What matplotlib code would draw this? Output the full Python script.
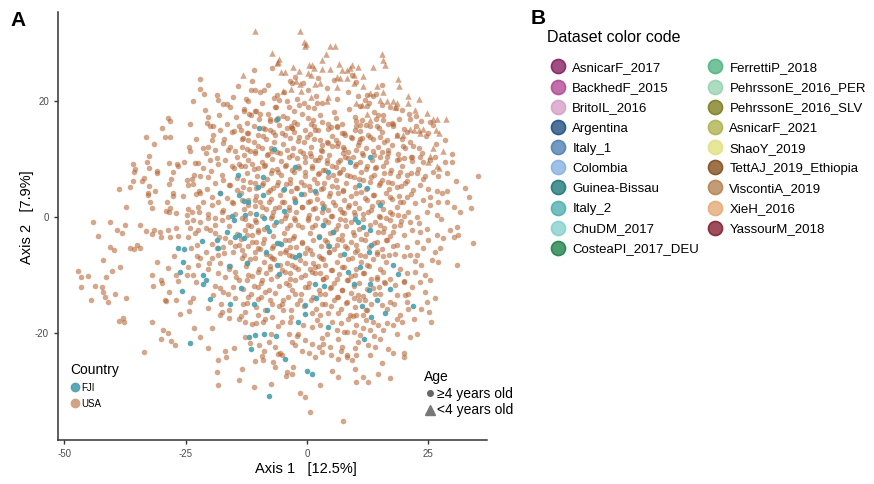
import matplotlib
matplotlib.use("Agg")
import matplotlib.pyplot as plt
from matplotlib.lines import Line2D
from matplotlib.colors import to_rgba

plt.rcParams['font.family'] = ['Liberation Sans', 'DejaVu Sans']
plt.rcParams['axes.unicode_minus'] = False

# ---------------- data ----------------
usa_x = [
 -22.1,-22.1,-21.2,-23.4,-28.7,-28.2,-24.0,-29.8,-33.2,-29.3,-28.2,-22.9,-31.5,-24.4,-24.0,-21.4,-32.6,-35.8,-33.0,-28.5,
 -26.7,-26.5,-25.3,-23.1,-22.5,-21.5,-35.4,-35.7,-32.6,-31.0,-30.9,-27.6,-33.5,-33.9,-28.0,-23.3,-23.6,-22.0,-35.9,-32.5,
 -28.5,-24.8,-24.5,-23.4,-38.7,-36.4,-32.8,-32.7,-31.3,-27.7,-27.5,-25.6,-22.9,-22.3,-22.0,-32.4,-28.9,-37.3,-31.9,-28.3,
 -29.1,-28.5,-26.9,-24.8,-24.5,-23.6,-22.5,-22.2,-21.5,
 -44.1,-40.6,-43.0,-39.2,-38.2,-37.4,-40.6,-39.7,-36.5,-35.7,-35.1,-34.4,-34.4,-33.2,-31.5,-30.3,-30.0,-32.0,-28.6,-28.2,
 -26.9,-26.5,-42.0,-47.2,-46.5,-45.1,-46.5,-43.6,-42.2,-44.5,-41.5,-40.1,-38.6,-42.0,-41.6,-41.0,-39.6,-37.3,-30.8,-28.7,
 -32.0,-31.7,-30.0,-29.8,-28.4,-29.3,-29.1,-27.0,-26.5,-26.9,-27.4,-24.5,-24.8,-24.1,-24.3,-23.4,-26.1,-31.9,-38.8,-37.9,
 -37.7,-29.6,-28.6,-30.0,-28.1,-27.1,-33.6,-23.2,-22.1,-22.4,-22.7,-22.1,-23.4,-22.9,-24.5,-24.0,-23.1,-22.4,-24.8,-23.4,
 -22.1,-23.8,-22.7,
 -11.0,-7.3,-3.0,-2.5,-11.6,-10.7,-9.7,-8.8,-18.6,-15.2,-12.1,-6.2,-5.7,-6.4,-4.2,-3.8,-1.6,-0.7,0.3,2.0,
 3.0,-17.2,-15.8,-12.9,-11.9,-10.8,-9.7,-21.0,-20.3,-7.6,-6.4,-5.9,-3.3,-3.0,-2.6,1.7,0.8,0.3,4.4,4.9,
 6.1,7.2,7.9,-20.0,-19.3,-17.9,-15.5,-14.1,-12.4,-13.1,-12.1,-10.0,-9.0,-7.6,-6.6,-5.2,-4.2,-1.6,-0.7,0.0,
 2.7,3.2,4.1,5.1,6.5,7.5,8.5,-19.6,-20.3,-18.9,-17.2,-15.8,-14.8,-13.4,-11.7,-10.7,-9.3,-8.3,-7.3,-5.5,
 -4.2,-3.0,-1.4,-0.4,0.6,1.7,2.7,4.1,5.1,6.5,7.9,-20.0,-18.3,-16.9,-15.5,-14.1,-12.8,-11.4,-10.0,-8.6,
 -7.3,-5.9,-4.5,-3.1,-1.8,-0.4,1.0,2.4,3.7,5.4,6.8,8.2,-20.3,-18.9,-17.2,-15.8,-14.5,-13.1,-11.7,-10.4,
 -9.0,-7.6,-6.2,-4.9,-3.5,-2.1,-0.7,0.6,2.0,3.4,4.8,6.1,7.5,-19.6,-18.3,-16.5,-15.2,-13.4,-12.1,-10.7,
 -9.3,-7.9,-6.6,-5.2,-3.8,-2.5,-1.1,0.3,1.7,3.0,4.4,5.8,7.2,8.5,-20.3,-18.9,-17.6,-16.2,-14.8,
 15.5,9.2,10.2,12.3,12.0,13.7,10.9,12.3,15.4,21.2,25.4,14.7,15.7,16.8,17.7,13.0,14.4,11.3,10.2,9.2,
 10.9,11.3,13.0,15.1,16.4,17.5,20.2,21.9,16.8,16.4,10.2,11.6,13.7,15.1,18.5,19.9,21.6,23.3,24.0,25.4,
 26.4,28.5,29.8,35.3,10.2,12.3,14.0,15.7,17.1,19.2,20.6,22.6,24.3,26.0,28.8,9.6,11.6,13.3,15.1,16.8,
 18.5,20.2,21.9,23.3,25.0,26.7,32.6,33.3,33.9,27.8,28.8,10.2,12.0,13.7,15.4,17.1,19.2,20.6,22.3,24.0,
 25.4,27.1,30.2,9.6,11.6,13.3,15.1,17.1,18.8,20.9,22.6,24.7,26.7,
 -20.3,-18.4,-16.7,-18.6,-18.4,-14.1,-13.4,-11.0,-7.4,-4.3,-4.2,-1.4,-0.5,2.7,0.6,7.5,6.3,5.1,-10.7,-9.0,
 -6.9,-6.6,-2.8,-3.0,-5.9,-5.1,-1.1,1.7,3.0,5.0,6.5,8.2,-15.0,-16.9,-11.7,-12.8,-9.8,-8.8,-7.9,-6.6,
 -5.5,-3.1,-2.1,-1.9,-0.4,1.0,2.4,3.4,4.8,7.0,7.2,8.2,-19.6,-17.9,-16.1,-12.8,-10.4,-9.0,-5.2,-3.8,
 1.0,2.7,4.1,6.1,8.2,-15.8,-18.6,-18.3,-13.4,-12.4,-15.8,-8.4,-5.5,-3.8,-1.6,1.7,2.8,4.4,4.6,5.4,
 -20.3,-18.9,-17.6,-13.4,-12.1,-10.7,-10.0,-7.3,-4.5,-3.5,-2.5,-1.1,0.3,1.7,3.7,5.1,6.5,7.9,-12.8,-11.4,
 -16.9,-18.9,-20.0,-20.7,-19.6,-17.2,-15.2,-14.1,-11.4,-10.0,-9.0,-7.3,-4.5,-3.5,-2.8,-1.1,0.0,1.0,3.7,6.1,
 7.2,8.2,-10.7,-13.4,-7.3,-4.5,-20.3,-17.9,-16.9,-14.8,-14.1,-12.1,-10.0,-9.3,-7.6,-4.5,-3.5,-1.8,-0.4,1.0,
 2.7,3.4,5.1,6.1,7.2,8.2,-3.1,-0.4,3.7,-19.3,-17.9,-16.2,-14.8,-13.1,-12.1,-10.0,-8.6,-7.6,-5.2,-3.8,
 -2.5,-1.4,0.3,2.7,4.8,6.1,7.2,8.2,3.7,-17.6,-12.8,-10.0,-7.3,-4.9,1.0,2.7,6.5,8.5,5.1,-3.5,-14.1,
 34.3,30.9,29.5,30.9,30.2,31.2,26.7,28.1,27.4,26.4,27.1,25.7,26.4,25.4,25.2,25.5,22.6,21.2,18.5,16.8,
 15.4,17.1,14.7,11.6,9.9,10.2,12.6,19.9,19.9,17.8,10.6,10.2,9.2,13.0,23.3,24.7,22.6,24.0,25.0,22.6,
 23.6,22.3,23.3,24.3,24.7,23.6,20.6,20.2,20.9,19.2,19.5,18.5,17.8,16.4,15.7,14.7,13.7,13.0,11.6,10.2,
 9.6,10.9,14.0,12.6,21.2,19.2,17.1,15.1,15.7,17.8,19.9,21.6,14.4,16.4,18.5,20.6,21.2,19.9,18.1,15.7,
 14.4,19.2,20.6,19.9,21.6,20.9,18.5,17.1,16.4,15.4,15.1,13.7,14.4,15.7,17.1,16.1,18.1,9.6,10.2,9.2,
 10.9,12.0,9.9,11.6,12.3,10.6,9.6,12.0,10.2,8.9,11.6,12.3,
]
usa_y = [
 23.8,22.1,21.2,19.9,17.1,16.6,16.1,15.4,13.8,13.7,13.8,13.5,12.5,12.1,11.4,11.9,10.5,9.1,9.5,9.3,
 9.2,8.7,9.5,9.3,9.3,8.4,8.3,7.7,8.4,8.0,7.6,7.8,6.7,6.2,6.6,7.2,6.6,7.0,6.2,5.4,
 5.6,6.3,5.5,5.7,4.9,5.1,4.1,3.8,4.4,4.1,3.6,3.7,4.0,4.5,4.1,2.5,2.6,1.7,1.6,1.6,
 1.1,0.8,0.7,0.4,1.4,0.8,1.8,0.9,2.5,
 -0.9,-0.8,-3.3,-2.2,-2.8,-1.4,-5.1,-5.7,-5.4,-5.5,-4.8,-5.4,-1.3,-2.4,-2.2,-2.5,-3.4,-3.0,-2.2,-3.4,
 -1.9,-3.2,-7.4,-9.3,-10.3,-10.1,-12.1,-11.8,-12.1,-14.3,-10.4,-9.3,-8.6,-13.0,-13.7,-14.6,-13.2,-13.9,-7.7,-8.7,
 -10.0,-11.9,-10.9,-11.4,-12.9,-14.3,-14.5,-14.3,-11.0,-10.0,-6.7,-8.6,-10.0,-14.7,-16.2,-13.9,-16.7,-18.0,-17.9,-17.4,
 -18.0,-19.4,-19.9,-21.0,-21.3,-22.1,-23.2,-19.2,-20.6,-8.3,-6.8,-7.1,-10.0,-11.2,-3.4,-1.9,-2.8,-2.2,-0.8,-0.5,
 -0.8,-5.4,-4.8,
 25.3,25.7,23.0,24.1,21.9,21.8,21.6,21.8,21.0,20.6,20.0,21.0,20.2,19.0,20.0,19.0,19.3,19.7,18.9,19.7,
 19.6,19.4,18.9,18.2,17.8,18.2,17.7,18.4,17.3,16.8,16.7,17.1,15.7,15.3,16.4,15.0,16.1,17.0,16.1,15.5,
 15.6,14.4,14.1,15.7,15.6,15.0,14.7,15.7,14.4,13.6,13.3,14.2,15.3,15.0,14.1,14.4,15.3,13.8,13.0,13.8,
 13.3,12.4,13.0,12.2,12.7,12.1,11.2,13.3,12.1,11.5,12.7,12.1,11.3,12.1,11.3,11.0,11.8,10.7,11.3,11.0,
 11.5,10.7,11.3,10.4,11.0,9.8,10.4,9.8,8.7,9.5,10.4,9.8,9.2,9.8,8.7,9.2,8.7,9.2,8.4,9.0,
 8.1,7.8,8.7,8.1,8.7,7.8,8.4,7.5,8.1,7.2,7.8,7.2,6.9,5.8,6.4,5.5,6.7,5.2,6.1,5.0,
 5.8,4.6,5.5,4.6,5.8,5.0,5.5,4.6,5.8,5.0,4.1,5.2,4.4,3.5,2.6,3.2,2.4,2.9,2.1,2.9,
 1.8,2.6,1.5,2.6,1.8,2.9,1.8,2.6,1.5,2.4,1.2,2.1,0.9,1.8,0.6,-0.2,0.9,0.0,0.6,
 22.8,24.5,23.3,21.0,20.2,20.9,19.1,19.1,19.2,16.9,16.4,17.6,16.7,16.0,16.1,15.7,15.6,16.7,15.6,13.6,
 13.4,13.6,13.7,13.8,13.3,12.4,11.8,12.2,11.0,10.4,11.5,10.7,11.3,10.4,9.8,10.1,10.3,10.4,9.5,9.8,
 10.4,9.5,9.5,7.1,9.2,8.7,8.4,8.7,7.5,7.8,7.2,7.5,7.0,7.8,7.6,6.9,6.4,6.9,5.8,6.1,
 5.2,5.8,4.6,5.5,4.9,4.4,5.0,3.5,1.5,4.2,4.4,4.1,3.2,3.8,2.6,3.5,2.6,3.5,2.4,2.9,
 2.1,2.6,1.8,0.9,0.6,1.2,0.0,0.9,0.4,0.9,0.0,0.9,0.4,
 -22.5,-24.7,-24.1,-26.7,-29.0,-28.0,-26.2,-29.2,-28.7,-27.4,-26.7,-30.3,-31.0,-28.9,-33.6,-35.2,-27.5,-26.6,-24.8,-24.7,
 -25.0,-25.8,-25.8,-27.1,-23.6,-23.7,-23.1,-24.1,-23.3,-23.7,-24.5,-24.1,-22.5,-23.0,-21.7,-20.6,-22.0,-23.0,-21.6,-22.4,
 -23.5,-21.6,-20.5,-20.2,-21.2,-21.8,-22.4,-21.8,-22.3,-23.0,-22.4,-23.8,-19.1,-16.8,-16.0,-18.1,-18.3,-18.0,-18.0,-20.1,
 -18.9,-18.6,-20.1,-19.5,-19.8,-4.3,-5.4,-6.6,-5.7,-7.9,-8.4,-6.4,-8.3,-6.6,-6.6,-8.6,-7.1,-5.0,-6.0,-2.6,
 -0.2,-1.4,-0.5,-0.2,-1.4,-0.5,-2.2,0.1,-0.2,-1.4,-0.5,-1.7,-0.2,-1.4,-0.5,0.1,-1.4,-0.5,-2.2,-3.1,
 -3.7,-2.8,-2.2,-6.0,-7.1,-5.1,-6.0,-4.8,-4.3,-5.4,-4.5,-5.4,-4.0,-5.1,-3.7,-4.3,-5.4,-6.3,-4.0,-4.8,
 -4.0,-5.4,-7.1,-7.1,-7.1,-6.0,-8.9,-8.0,-10.3,-9.4,-10.9,-10.0,-9.4,-10.9,-8.9,-9.4,-10.6,-8.9,-10.0,-9.4,
 -9.7,-10.6,-9.1,-10.6,-8.6,-10.9,-8.3,-8.0,-8.3,-13.5,-12.3,-13.2,-14.0,-14.9,-13.8,-12.0,-12.9,-14.3,-14.9,-11.7,
 -13.2,-14.3,-12.0,-13.2,-12.3,-13.8,-12.6,-14.6,-14.9,-16.3,-16.3,-16.9,-17.2,-16.0,-16.6,-16.9,-16.6,-17.5,-18.1,-18.1,-17.5,
 -4.5,-8.2,-2.2,-1.8,-3.4,-3.1,-3.1,-3.7,-5.4,-6.0,-7.7,-7.4,-14.0,-10.9,-16.3,-18.1,-20.1,-20.6,-20.1,-22.8,
 -25.1,-27.8,-27.0,-27.6,-26.1,-28.4,-28.4,-23.5,-24.1,-23.5,-21.5,-23.8,-24.7,-23.8,-2.5,-2.0,-4.3,-5.4,-4.0,-6.6,
 -8.3,-9.4,-11.2,-12.9,-14.6,-15.8,-14.6,-13.5,-15.8,-16.9,-18.1,-17.5,-18.6,-18.3,-19.5,-18.6,-18.1,-19.5,-19.2,-18.6,
 -19.8,-20.4,-22.4,-22.1,-0.8,-1.4,-0.5,-1.4,-2.5,-2.5,-3.1,-2.2,-4.3,-4.0,-4.8,-5.1,-6.6,-6.8,-6.3,-6.8,
 -6.3,-8.9,-9.7,-11.2,-12.0,-13.2,-13.5,-14.6,-15.8,-15.2,-13.2,-12.3,-10.6,-9.4,-10.6,-11.4,-11.7,-3.1,-4.8,-7.1,
 -6.6,-4.0,-10.0,-9.7,-8.3,-13.5,-14.0,-14.3,-16.9,-16.9,-16.9,-16.0,
]

# dense core of the USA cloud (x, y), read band by band from a close-up
usa_core = [
 (-13.0,18.6),(-11.6,17.5),(-10.5,18.2),(-8.1,17.8),(-6.6,18.9),(-5.0,17.4),(-2.6,18.3),(-1.1,17.7),(1.4,18.8),(2.6,17.6),(5.5,18.1),(8.7,18.6),(10.0,17.3),(13.9,18.0),(15.6,17.5),(18.3,18.7),(21.0,17.8),
 (-12.4,16.2),(-9.8,16.9),(-7.7,16.5),(-4.2,17.0),(-2.0,16.1),(1.2,16.7),(3.1,16.3),(5.9,17.1),(7.3,16.0),(10.1,16.6),(11.0,15.9),(14.3,16.8),(17.5,16.2),(19.0,16.8),(23.4,16.5),
 (-13.6,15.0),(-10.9,15.7),(-8.6,15.2),(-5.7,15.9),(-3.0,15.4),(-0.4,15.0),(1.4,15.7),(4.4,15.2),(6.1,15.5),(9.8,15.0),(12.2,15.8),(14.9,15.3),(17.8,15.6),(20.0,15.1),(22.5,15.7),
 (-12.1,14.5),(-9.1,14.0),(-6.9,14.6),(-4.5,14.1),(-2.7,14.7),(0.7,14.3),(2.3,14.9),(5.2,14.0),(7.6,14.4),(10.9,14.8),(12.6,14.1),(15.5,14.6),(18.5,14.2),(20.7,14.7),(24.6,14.0),
 (-13.3,13.4),(-11.0,12.9),(-8.4,13.5),(-6.8,13.0),(-3.5,13.6),(-1.9,13.1),(1.5,13.4),(4.3,12.8),(6.0,13.3),(9.1,13.7),(10.8,13.0),(13.6,13.4),(15.8,12.9),(19.5,13.5),(21.2,13.0),
 (-12.4,11.7),(-10.1,12.2),(-7.5,11.9),(-5.0,12.5),(-2.8,11.8),(0.8,12.1),(2.8,11.6),(6.1,12.3),(7.7,11.7),(10.6,12.4),(12.1,11.8),(14.6,12.1),(16.6,11.6),(19.7,12.2),(23.1,11.9),
 (-13.0,10.6),(-10.7,11.3),(-8.0,10.8),(-6.1,11.2),(-3.7,10.4),(-0.9,11.0),(0.8,10.5),(3.1,11.3),(4.5,10.7),(7.4,11.1),(9.4,10.4),(11.3,11.0),(13.9,10.6),(15.5,11.2),(18.7,10.8),(21.4,10.3),(23.8,11.0),
 (-12.2,9.8),(-9.3,9.4),(-7.2,10.0),(-5.3,9.6),(-2.1,10.2),(-0.3,9.5),(2.3,9.9),(4.1,9.3),(6.9,9.8),(8.4,10.2),(10.9,9.5),(13.5,9.9),(16.2,9.4),(18.9,10.0),(21.7,9.6),
 (-13.6,8.8),(-11.0,8.3),(-8.9,8.7),(-6.1,8.2),(-4.4,8.9),(-1.6,8.4),(1.1,8.8),(3.3,8.1),(5.9,8.6),(7.4,8.3),(9.8,8.8),(12.2,8.2),(14.2,8.6),(17.3,8.1),(19.6,8.7),(22.8,8.3),
 (-12.3,7.5),(-10.2,7.0),(-7.4,7.6),(-5.4,7.2),(-2.6,7.7),(-0.5,7.1),(2.2,7.4),(4.3,6.9),(6.6,7.5),(8.9,7.0),(11.1,7.7),(13.9,7.2),(15.9,7.6),(18.7,7.1),(21.5,7.5),
 (-13.1,6.4),(-10.8,5.9),(-8.2,6.5),(-6.0,6.0),(-3.4,6.6),(-1.2,6.1),(1.4,6.5),(3.6,5.8),(5.9,6.3),(8.0,5.9),(10.7,6.5),(12.9,6.0),(15.5,6.4),(17.6,5.8),(20.7,6.2),
 (-11.9,4.9),(-9.2,5.5),(-7.0,5.0),(-4.4,5.6),(-2.2,5.0),(0.4,5.4),(2.9,4.8),(5.2,5.3),(7.4,4.7),(10.0,5.2),(12.2,4.8),(14.9,5.5),(17.0,4.9),(19.3,5.3),
 (-13.5,4.2),(-10.5,3.7),(-8.1,4.3),(-5.5,3.8),(-3.2,4.4),(-0.7,3.9),(1.9,4.2),(4.5,3.6),(6.3,4.1),(9.0,3.7),(11.1,4.3),(13.8,3.8),(16.3,4.2),(18.9,3.6),(21.5,4.0),
 (-12.2,3.0),(-9.6,2.5),(-7.4,3.1),(-4.8,2.6),(-2.6,3.2),(0.6,2.7),(2.0,3.1),(5.3,2.5),(7.6,3.0),(9.8,2.4),(12.4,2.9),(14.6,2.5),(17.5,3.1),(19.8,2.6),
 (-13.0,1.4),(-10.8,1.9),(-8.4,1.3),(-5.8,1.8),(-3.6,1.2),(-1.0,1.7),(1.2,1.3),(3.5,1.9),(6.8,1.4),(8.6,2.0),(10.8,1.5),(13.4,1.9),(15.6,1.3),(18.6,1.8),
 (-11.8,0.7),(-9.2,0.2),(-7.0,0.8),(-4.4,0.3),(-2.2,0.9),(0.5,0.4),(3.1,0.8),(5.0,0.2),(7.6,0.7),(9.8,0.3),(12.5,0.8),(14.8,0.2),(17.5,0.6),(20.1,0.1),
 (-12.7,-0.3),(-10.5,-0.8),(-7.5,-0.2),(-5.3,-0.7),(-2.7,-0.1),(0.3,-0.6),(2.1,-0.2),(4.3,-0.8),(6.9,-0.3),(9.1,-0.9),(11.5,-0.4),(14.1,-0.8),(16.3,-0.2),(19.3,-0.7),
 (-11.5,-1.5),(-8.9,-2.0),(-6.7,-1.4),(-4.1,-1.9),(-1.9,-1.3),(1.1,-1.8),(3.3,-1.4),(5.9,-2.1),(8.1,-1.5),(10.7,-2.0),(12.9,-1.4),(15.8,-1.9),(18.0,-1.5),
 (-12.3,-3.1),(-10.1,-2.6),(-7.0,-3.3),(-4.8,-2.8),(-2.6,-3.2),(0.6,-2.7),(2.4,-3.3),(4.7,-2.8),(7.3,-3.1),(9.5,-2.5),(12.1,-3.0),(14.6,-2.6),(17.2,-3.2),
 (-13.5,-3.8),(-10.4,-4.3),(-8.8,-3.8),(-5.8,-4.4),(-3.6,-3.9),(-1.0,-4.4),(1.2,-3.9),(4.2,-4.3),(6.4,-3.8),(9.0,-4.3),(11.2,-3.8),(13.8,-4.4),(16.3,-3.9),
 (-12.2,-5.0),(-9.6,-5.5),(-7.0,-5.0),(-4.4,-5.6),(-2.2,-5.1),(0.7,-5.6),(2.9,-5.0),(5.5,-5.5),(7.8,-5.0),(10.3,-5.6),(12.8,-5.1),(15.5,-5.5),(17.7,-5.0),
 (-13.0,-6.6),(-10.8,-6.0),(-7.6,-6.7),(-5.5,-6.2),(-3.0,-6.7),(-0.4,-6.2),(2.5,-6.8),(4.6,-6.1),(6.9,-6.6),(9.8,-6.1),(11.9,-6.7),(14.5,-6.0),(17.0,-6.5),
 (-11.7,-7.3),(-8.8,-7.8),(-6.7,-7.2),(-4.2,-7.9),(-1.5,-7.4),(1.2,-7.9),(3.3,-7.3),(6.2,-7.8),(8.4,-7.2),(11.1,-7.7),(13.6,-7.3),(16.2,-7.8),
 (-12.6,-8.5),(-9.9,-9.0),(-7.7,-8.4),(-5.1,-9.1),(-2.5,-8.6),(0.6,-9.0),(2.2,-8.5),(5.0,-9.1),(7.7,-8.6),(10.1,-9.0),(12.7,-8.5),(15.0,-9.0),
 (-11.3,-10.2),(-8.5,-9.6),(-6.2,-10.2),(-3.4,-9.7),(-1.2,-10.3),(1.7,-9.7),(3.9,-10.3),(6.7,-9.8),(9.0,-10.2),(11.8,-9.7),(14.4,-10.3),
 (-12.3,-10.8),(-9.5,-11.3),(-7.4,-10.7),(-4.4,-11.4),(-2.4,-10.8),(0.4,-11.3),(3.4,-10.7),(5.6,-11.3),(8.4,-10.8),(10.7,-11.4),(13.3,-10.7),(15.9,-11.2),
 (-13.1,-12.4),(-10.9,-11.9),(-7.8,-12.5),(-5.7,-11.9),(-3.0,-12.5),(-0.4,-12.0),(2.4,-12.6),(4.9,-12.0),(7.3,-12.5),(9.7,-11.9),(12.4,-12.4),(14.9,-12.0),
 (-11.6,-13.2),(-9.4,-13.7),(-6.5,-13.1),(-3.9,-13.7),(-1.3,-13.2),(1.3,-13.8),(3.8,-13.2),(6.4,-13.7),(9.0,-13.1),(11.5,-13.6),(14.1,-13.2),
 (-12.3,-14.8),(-10.1,-14.2),(-7.1,-14.9),(-4.9,-14.3),(-2.0,-14.9),(0.8,-14.3),(3.0,-14.9),(5.5,-14.3),(8.1,-14.8),(10.8,-14.3),(13.2,-14.9),
 (-10.6,-15.5),(-8.7,-16.0),(-5.7,-15.4),(-3.2,-16.0),(-0.6,-15.4),(1.9,-15.9),(4.9,-15.4),(7.1,-15.9),(10.0,-15.5),(12.2,-16.0),
]

# more USA points around the core (x, y)
usa_ring = [
 (-20.6,16.2),(-18.2,17.6),(-16.4,16.0),(-14.6,17.2),(-19.4,14.1),(-17.1,13.4),(-15.0,14.8),(-20.8,11.0),(-18.6,10.2),
 (-16.2,11.6),(-14.5,10.3),(-19.8,8.0),(-17.5,7.3),(-15.1,8.5),(-20.5,4.8),(-18.0,4.2),(-16.1,5.5),(-14.4,4.6),
 (-19.6,2.0),(-17.3,1.2),(-15.5,2.6),(-20.9,-1.9),(-18.2,-3.5),(-16.0,-1.6),(-14.5,-3.0),(-19.5,-4.6),(-17.0,-6.2),
 (-14.9,-5.0),(-20.2,-8.0),(-18.4,-9.6),(-16.0,-8.9),(-14.6,-10.4),(-19.0,-11.8),(-17.3,-13.0),(-15.2,-12.0),
 (-20.4,-15.6),(-17.8,-15.0),(-16.0,-17.4),(-13.6,-17.0),(-11.3,-18.4),(-8.7,-17.5),(-6.0,-18.8),(-3.3,-17.2),
 (-0.8,-18.6),(2.0,-17.8),(4.4,-16.6),(7.0,-18.2),(9.5,-17.0),(12.2,-17.7),(3.0,-20.9),(-2.5,-22.0),(0.5,-23.5),
 (-7.5,-20.2),(-9.2,-24.0),(6.3,-21.0),(9.8,-22.5),(15.0,-21.0),(18.0,-15.0),(20.0,-11.0),(22.2,-7.5),(23.0,-1.0),
 (25.3,3.5),(24.0,6.5),(27.0,7.0),(26.5,12.5),(25.0,14.5),
 (-9.2,19.6),(-6.8,20.5),(-4.7,21.6),(-2.0,20.3),(0.2,21.8),(1.9,20.9),(4.1,22.2),(6.2,20.4),(8.4,21.5),(10.5,20.8),
 (12.8,19.6),(14.3,21.2),(17.2,19.0),(19.5,18.5),(-8.0,22.8),(-3.5,23.5),(-0.8,23.0),(2.3,24.0),(5.5,23.6),
 (-12.6,20.4),(-14.2,22.5),(-11.3,23.4),(-16.5,19.5),(-18.4,20.2),(22.5,17.4),(26.0,15.8),(28.4,13.2),(29.9,10.8),
 (30.8,6.2),(28.9,2.5),(31.5,0.8),(27.6,-0.4),(24.4,-10.0),(22.1,-17.6),(13.9,-20.5),(7.7,-19.8),
]

young_x = [
 -10.7,-1.4,-0.6,-0.2,-0.4,4.8,5.7,3.9,-7.1,-5.7,-6.1,3.0,6.6,-13.2,-5.4,-4.5,-2.8,-1.6,0.4,1.1,
 1.5,3.0,4.8,0.2,0.8,7.2,8.2,6.1,6.8,-2.3,-1.4,1.7,2.7,-4.9,-3.3,-1.2,4.4,4.1,0.8,6.1,
 8.2,-6.0,15.5,15.6,16.1,13.7,10.6,9.2,18.7,19.0,11.6,11.6,14.4,15.6,13.0,15.1,16.4,20.9,23.1,22.3,
 20.9,17.8,18.5,18.1,24.7,25.9,26.7,28.7,26.6,27.3,21.2,22.1,23.0,23.2,23.9,18.5,19.7,26.0,28.1,25.4,
 24.9,26.9,27.3,8.9,9.6,9.7,10.2,11.3,12.3,13.0,
]
young_y = [
 32.1,32.0,30.2,29.8,29.5,29.5,29.4,28.0,28.3,27.2,26.5,27.0,26.3,24.5,24.9,24.9,25.8,25.1,26.1,26.1,
 25.6,25.5,25.5,24.8,24.4,25.3,25.3,24.1,23.9,23.4,22.9,22.9,23.0,21.7,22.0,21.7,20.6,19.9,20.6,22.4,
 23.9,26.7,28.0,27.0,26.1,25.8,25.8,26.1,23.7,22.5,24.2,22.5,22.6,21.6,21.3,20.2,19.9,20.9,20.4,18.4,
 19.7,20.0,19.7,18.9,17.9,16.9,16.8,16.8,15.0,14.5,15.2,15.0,15.0,14.4,15.1,14.1,14.1,11.8,11.4,10.5,
 9.4,8.8,8.4,25.6,24.5,23.0,19.6,19.2,17.7,16.7,
]

fji_x = [
 -26.2,-26.6,-25.4,-25.6,-25.7,-24.1,-21.5,-21.4,-21.7,
 -6.2,-9.9,-6.8,-2.5,-14.3,-9.1,-10.0,-17.9,-14.1,-9.0,-1.3,-4.7,1.7,4.4,-12.9,-12.1,-2.5,3.4,-12.8,-10.4,-4.7,
 13.0,10.8,12.3,15.1,8.9,9.9,
 -15.5,-15.0,-8.8,-6.4,-16.5,-13.9,-14.8,-12.9,-18.6,-18.4,-8.3,-7.9,-6.2,-5.3,-16.0,-12.4,-8.5,-6.2,-5.7,-2.5,
 -1.6,1.7,3.6,1.8,2.4,3.3,5.4,4.6,7.7,8.4,-0.4,-0.4,-1.8,4.4,-20.7,-20.0,-15.8,-13.6,-11.0,-8.3,
 -11.9,-10.7,-8.8,-11.5,-6.4,-4.5,-7.9,0.0,1.0,
 10.6,11.6,13.0,12.7,13.3,10.9,9.6,12.7,13.0,14.4,11.3,13.3,16.1,17.1,18.8,17.8,21.9,11.8,
]
fji_y = [
 -9.4,-5.3,-5.5,-7.7,-12.7,-21.7,-10.0,-11.6,-4.1,
 16.9,15.4,11.7,8.6,7.2,6.9,5.2,4.1,3.8,3.8,3.9,4.8,4.4,7.7,2.7,2.5,2.5,1.5,0.4,0.6,1.1,
 10.4,5.5,5.0,2.1,9.4,-0.4,
 0.2,-0.6,-0.1,-0.9,-2.6,-3.1,-3.4,-3.6,-4.0,-5.4,-1.8,-2.4,-4.4,-4.7,-8.4,-7.9,-6.1,-8.2,-9.8,-6.9,
 -6.6,-11.6,-11.8,-14.0,-3.4,-1.4,-2.5,-5.0,-6.4,-9.5,-15.1,-16.7,-18.1,-19.0,-10.9,-14.2,-14.9,-12.2,-14.9,-16.0,
 -20.7,-20.4,-20.1,-22.8,-20.5,-24.4,-30.9,-26.5,-27.0,
 -0.8,-1.7,-2.2,-6.0,-4.8,-8.6,-11.6,-12.6,-11.6,-14.3,-15.4,-17.2,-16.6,-12.4,-9.9,-8.2,-15.3,-21.0,
]

x_ticks = [-50, -25, 0, 25]
y_ticks = [-20, 0, 20]

datasets_col1 = ["AsnicarF_2017", "BackhedF_2015", "BritoIL_2016", "Argentina", "Italy_1",
                 "Colombia", "Guinea-Bissau", "Italy_2", "ChuDM_2017", "CosteaPI_2017_DEU"]
datasets_col2 = ["FerrettiP_2018", "PehrssonE_2016_PER", "PehrssonE_2016_SLV", "AsnicarF_2021",
                 "ShaoY_2019", "TettAJ_2019_Ethiopia", "ViscontiA_2019", "XieH_2016", "YassourM_2018"]
dataset_colors = ["#8E2F6E", "#B8559B", "#D8A6C9", "#2F5B8C", "#5C87B8", "#8FB6E3", "#2C8183",
                  "#5CB4B4", "#8DD4D2", "#2E8A55", "#5DB98B", "#9FD6B7", "#878730", "#B6B65C",
                  "#E3E388", "#8C5A2C", "#B98B5E", "#E6B080", "#8C2F40"]

# ---------------- figure ----------------
W, H = 874, 484
fig = plt.figure(figsize=(W / 100, H / 100), dpi=100)
ax = fig.add_axes([58 / W, 1 - 440 / H, (487 - 58) / W, (440 - 12) / H])

all_usa_x = usa_x + [p[0] for p in usa_core] + [p[0] for p in usa_ring]
all_usa_y = usa_y + [p[1] for p in usa_core] + [p[1] for p in usa_ring]

brown = "#B2602E"
teal = "#4AA0AE"
ax.scatter(all_usa_x, all_usa_y, s=16, color=brown, alpha=0.55, linewidths=0, marker='o', zorder=2)
ax.scatter(young_x, young_y, s=22, color=brown, alpha=0.55, linewidths=0, marker='^', zorder=2)
ax.scatter(fji_x, fji_y, s=16, color=teal, alpha=0.9, linewidths=0, marker='o', zorder=3)

ax.set_xlim(-51.3, 37.1)
ax.set_ylim(-38.4, 35.3)
ax.set_xticks(x_ticks)
ax.set_yticks(y_ticks)
for s in ['top', 'right']:
    ax.spines[s].set_visible(False)
for s in ['left', 'bottom']:
    ax.spines[s].set_color('#333333')
    ax.spines[s].set_linewidth(1.1)
ax.tick_params(axis='both', labelsize=7, colors='#333333', labelcolor='#4D4D4D',
               length=3, width=1.0)

ax.set_xlabel("Axis 1   [12.5%]", fontsize=10.5, color='black')
ax.set_ylabel("Axis 2   [7.9%]", fontsize=10.5, color='black')
ax.xaxis.set_label_coords((306 - 58) / (487 - 58), -22 / 428)
ax.yaxis.set_label_coords((34 - 58) / 429, (440 - 217) / 428)

# Country legend
h_fji = Line2D([], [], marker='o', linestyle='', color=teal, markersize=6, alpha=0.9)
h_usa = Line2D([], [], marker='o', linestyle='', color="#D2A285", markersize=6)
leg1 = ax.legend([h_fji, h_usa], ["FJI", "USA"], title="Country", loc='lower left',
                 bbox_to_anchor=(0.009, 0.053), frameon=False, fontsize=7,
                 title_fontsize=10, handletextpad=0.1, labelspacing=0.6,
                 alignment='left', handlelength=1.0)
ax.add_artist(leg1)

# Age legend
h_old = Line2D([], [], marker='o', linestyle='', color='#666666', markersize=4)
h_young = Line2D([], [], marker='^', linestyle='', color='#777777', markersize=7)
leg2 = ax.legend([h_old, h_young], ["\u22654 years old", "<4 years old"], title="Age",
                 loc='lower left', bbox_to_anchor=(0.83, 0.03), frameon=False, fontsize=10,
                 title_fontsize=10, handletextpad=0.05, labelspacing=0.2,
                 alignment='left', handlelength=0.9, borderpad=0.2)

fig.text(10 / W, 1 - 20 / H, "A", fontsize=15, fontweight='bold', va='center', ha='left')
fig.text(531 / W, 1 - 19 / H, "B", fontsize=15, fontweight='bold', va='center', ha='left')

# Dataset color legend
fig.text(547 / W, 1 - 37 / H, "Dataset color code", fontsize=11.5, va='center', ha='left')
names = datasets_col1 + datasets_col2
handles = [Line2D([], [], marker='o', linestyle='', markersize=10,
                  markerfacecolor=to_rgba(c, 0.85), markeredgecolor=c, markeredgewidth=1.3)
           for c in dataset_colors]
fig.legend(handles, names, loc='upper left', bbox_to_anchor=(538 / W, 1 - 50 / H),
           ncol=2, frameon=False, fontsize=9.5, handletextpad=0.5, labelspacing=0.6,
           columnspacing=0.6, handlelength=1.2)

fig.savefig("out.png", dpi=100)
